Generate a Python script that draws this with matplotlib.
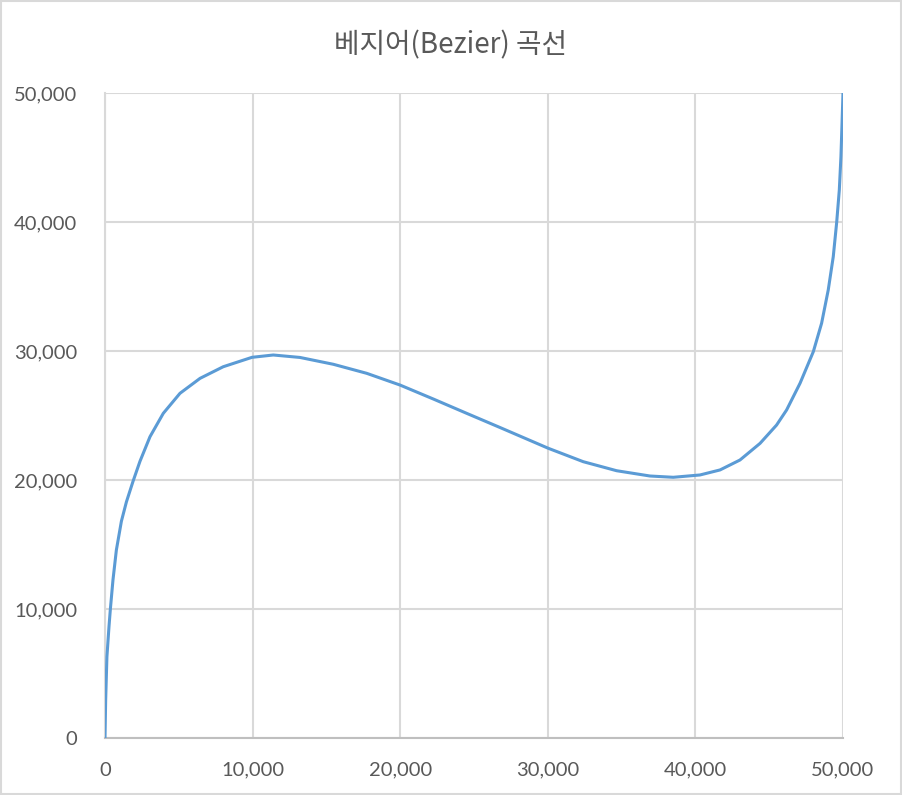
import matplotlib.pyplot as plt
from matplotlib.ticker import FuncFormatter
from matplotlib.patches import Rectangle

# 곡선 위의 점
curve_x = [0, 45, 130, 270, 360, 540, 770, 1110, 1450, 1900, 2370, 3050, 3950,
           5080, 6440, 8010, 9960, 11400, 13210, 15470, 17730, 19990, 22240,
           24500, 26760, 30030, 32400, 34660, 36920, 38500, 40310, 41670, 43020,
           44380, 45500, 46180, 47090, 47990, 48550, 49000, 49340, 49570, 49750,
           49860, 49930, 50000]
curve_y = [0, 2950, 6300, 8630, 9950, 12250, 14570, 16800, 18300, 19900, 21450,
           23360, 25170, 26720, 27880, 28780, 29510, 29690, 29500, 28970, 28270,
           27360, 26280, 25170, 24070, 22460, 21420, 20720, 20310, 20210, 20390,
           20780, 21550, 22840, 24260, 25430, 27500, 29950, 32150, 34730, 37310,
           39950, 42480, 45060, 47500, 50000]

x_ticks = [0, 10000, 20000, 30000, 40000, 50000]
y_ticks = [0, 10000, 20000, 30000, 40000, 50000]
title = "베지어(Bezier) 곡선"

plt.rcParams['font.family'] = ['Lato', 'Noto Sans CJK KR', 'DejaVu Sans']

fig = plt.figure(figsize=(9.02, 7.95), dpi=100)
ax = fig.add_axes([105 / 902, 1 - 738 / 795, 738 / 902, 645 / 795])

ax.plot(curve_x, curve_y, color="#5b9bd5", linewidth=2.2, solid_capstyle="butt",
        solid_joinstyle="round", zorder=3)

ax.set_xlim(0, 50000)
ax.set_ylim(0, 50000)
ax.set_xticks(x_ticks)
ax.set_yticks(y_ticks)
fmt = FuncFormatter(lambda v, p: f"{int(v):,}")
ax.xaxis.set_major_formatter(fmt)
ax.yaxis.set_major_formatter(fmt)
ax.tick_params(length=0, labelsize=14.5, labelcolor="#595959")
ax.tick_params(axis="y", pad=20)
ax.tick_params(axis="x", pad=17)

ax.grid(True, color="#d9d9d9", linewidth=1.5)
ax.set_axisbelow(True)
for side in ["top", "right"]:
    ax.spines[side].set_visible(False)
ax.spines["left"].set_color("#d9d9d9")
ax.spines["left"].set_linewidth(1.5)
ax.spines["bottom"].set_color("#bfbfbf")
ax.spines["bottom"].set_linewidth(1.5)

fig.text(450 / 902, 1 - 45 / 795, title, ha="center", va="center",
         fontsize=20, color="#595959",
         family=['Noto Sans CJK KR', 'DejaVu Sans'])

# 바깥 테두리
fig.patches.append(Rectangle((0.001, 0.001), 0.998, 0.998, transform=fig.transFigure,
                             fill=False, edgecolor="#d9d9d9", linewidth=1.5))

fig.savefig("out.png", dpi=100)
